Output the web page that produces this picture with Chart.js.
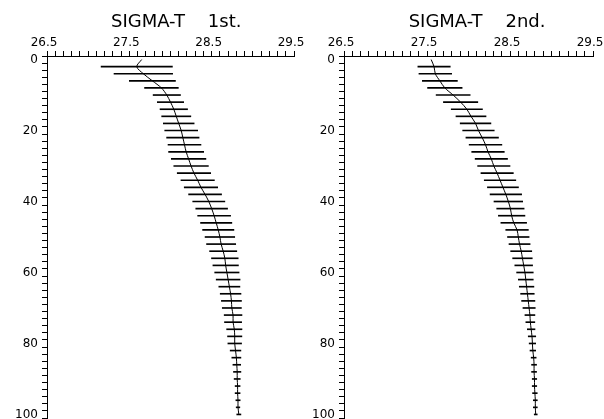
<!DOCTYPE html>
<html>
<head>
<meta charset="utf-8">
<script src="https://cdn.jsdelivr.net/npm/chart.js@4"></script>
<style>
  html, body { margin: 0; padding: 0; background: #fff; }
  #wrap { position: relative; width: 604px; height: 419px; overflow: hidden; }
  canvas { position: absolute; top: 0; }
</style>
</head>
<body>
<div id="wrap">
  <canvas id="first" width="306" height="419" style="left:0"></canvas>
  <canvas id="second" width="304" height="419" style="left:300px"></canvas>
</div>
<script>
// depth (m) of each level; level 0 has no spread bar
const depths = [0, 2, 4, 6, 8, 10, 12, 14, 16, 18, 20, 22, 24, 26, 28, 30, 32, 34, 36, 38, 40,
  42, 44, 46, 48, 50, 52, 54, 56, 58, 60, 62, 64, 66, 68, 70, 72, 74, 76, 78, 80,
  82, 84, 86, 88, 90, 92, 94, 96, 98, 100];

// 1st survey: mean sigma-t and standard deviation
const meanFirst = [27.65, 27.59, 27.67, 27.78, 27.89, 27.955, 28.00, 28.04, 28.07, 28.10, 28.13,
  28.15, 28.17, 28.19, 28.22, 28.25, 28.285, 28.33, 28.37, 28.42, 28.465,
  28.50, 28.53, 28.555, 28.58, 28.60, 28.615, 28.64, 28.66, 28.67, 28.685,
  28.70, 28.715, 28.73, 28.74, 28.745, 28.76, 28.76, 28.775, 28.78, 28.78,
  28.79, 28.80, 28.805, 28.81, 28.81, 28.815, 28.815, 28.82, 28.82, 28.83];
const sdFirst = [null, 0.433, 0.356, 0.28, 0.205, 0.166, 0.16, 0.167, 0.177, 0.187, 0.20,
  0.197, 0.20, 0.213, 0.21, 0.21, 0.203, 0.203, 0.203, 0.20, 0.195,
  0.193, 0.20, 0.19, 0.19, 0.18, 0.177, 0.165, 0.162, 0.155, 0.148,
  0.145, 0.128, 0.126, 0.122, 0.116, 0.108, 0.104, 0.093, 0.087, 0.083,
  0.065, 0.055, 0.047, 0.045, 0.037, 0.03, 0.03, 0.026, 0.022, 0.025];

// 2nd survey
const meanSecond = [27.55, 27.585, 27.60, 27.655, 27.715, 27.815, 27.905, 27.98, 28.03, 28.085, 28.12,
  28.165, 28.205, 28.235, 28.275, 28.305, 28.345, 28.38, 28.415, 28.45, 28.48,
  28.505, 28.52, 28.545, 28.585, 28.60, 28.615, 28.635, 28.65, 28.665, 28.68,
  28.69, 28.70, 28.71, 28.72, 28.73, 28.74, 28.745, 28.755, 28.765, 28.77,
  28.775, 28.785, 28.79, 28.79, 28.795, 28.795, 28.80, 28.805, 28.805, 28.81];
const sdSecond = [null, 0.195, 0.197, 0.211, 0.208, 0.205, 0.207, 0.188, 0.181, 0.185, 0.19,
  0.196, 0.197, 0.196, 0.195, 0.195, 0.195, 0.19, 0.187, 0.19, 0.173,
  0.165, 0.16, 0.155, 0.136, 0.13, 0.127, 0.127, 0.118, 0.107, 0.10,
  0.09, 0.088, 0.082, 0.08, 0.074, 0.06, 0.054, 0.046, 0.045, 0.039,
  0.034, 0.03, 0.03, 0.03, 0.027, 0.027, 0.028, 0.024, 0.024, 0.018];

const sigmaMin = 26.5, sigmaMax = 29.5;
const depthMin = 0, depthMax = 100;

Chart.defaults.font.family = "'DejaVu Sans', sans-serif";
Chart.defaults.color = '#000';

function drawProfile(id, title, mean, sd, axisWidth, padRight) {
  const bars = [];
  depths.forEach((d, i) => {
    if (sd[i] != null) bars.push({ y: d, x: [mean[i] - sd[i], mean[i] + sd[i]] });
  });
  const line = depths.map((d, i) => ({ x: mean[i], y: d }));

  new Chart(document.getElementById(id), {
    type: 'bar',
    data: {
      datasets: [{
        type: 'line',
        data: line,
        borderColor: '#000',
        borderWidth: 1,
        pointRadius: 0,
        tension: 0.3,
        fill: false
      }, {
        type: 'bar',
        data: bars,
        backgroundColor: '#000',
        borderWidth: 0,
        barThickness: 1
      }]
    },
    options: {
      indexAxis: 'y',
      responsive: false,
      animation: false,
      devicePixelRatio: 1,
      layout: { padding: { left: 0, right: padRight, top: 0, bottom: 1 } },
      plugins: {
        legend: { display: false },
        tooltip: { enabled: false },
        title: {
          display: true,
          text: title,
          fullSize: false,
          color: '#000',
          font: { size: 18, weight: 'normal' },
          padding: { top: 12, bottom: 2.4 }
        }
      },
      scales: {
        x: {
          type: 'linear',
          position: 'top',
          min: sigmaMin,
          max: sigmaMax,
          grid: { drawOnChartArea: false, tickLength: 5, color: '#000' },
          border: { display: true, color: '#000' },
          ticks: {
            stepSize: 0.1,
            autoSkip: false,
            maxRotation: 0,
            padding: 1,
            labelOffset: -3,
            font: { size: 12 },
            callback: v => {
              const k = v - sigmaMin;
              return Math.abs(k - Math.round(k)) < 1e-6 ? v.toFixed(1) : '';
            }
          },
          afterFit: s => { s.height = 20; s.paddingLeft = 0; s.paddingRight = 0; }
        },
        y: {
          type: 'linear',
          reverse: true,
          min: depthMin,
          max: depthMax,
          grid: { drawOnChartArea: false, tickLength: 5, color: '#000' },
          border: { display: true, color: '#000' },
          ticks: {
            stepSize: 2,
            autoSkip: false,
            padding: 4,
            font: { size: 12 },
            callback: v => (Math.round(v) % 20 === 0 ? String(Math.round(v)) : '')
          },
          afterFit: s => { s.width = axisWidth; s.paddingTop = 0; s.paddingBottom = 0; }
        }
      }
    }
  });
}

drawProfile('first', '  SIGMA-T    1st.', meanFirst, sdFirst, 47, 12);
drawProfile('second', '   SIGMA-T    2nd.', meanSecond, sdSecond, 44, 11);
</script>
</body>
</html>
